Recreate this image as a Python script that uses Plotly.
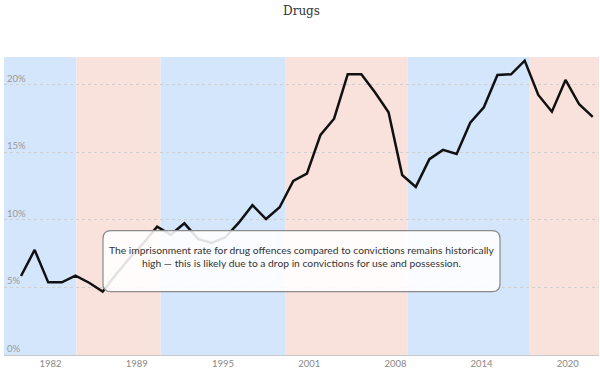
import plotly.graph_objects as go

# ---- data ----
years = list(range(1980, 2023))
rates = [5.85, 7.78, 5.38, 5.38, 5.88, 5.35, 4.69, 6.0, 7.2, 8.3,
         9.5, 8.9, 9.75, 8.6, 8.3, 8.7, 9.8, 11.1, 10.07, 10.94,
         12.9, 13.43, 16.3, 17.5, 20.8, 20.8, 19.46, 17.98, 13.33, 12.45,
         14.5, 15.19, 14.89, 17.2, 18.35, 20.74, 20.79, 21.8, 19.26, 18.02,
         20.37, 18.57, 17.63]

band_starts = ["1979-04-01", "1984-07-26", "1990-10-01", "1999-12-10", "2008-11-19", "2017-10-26"]
band_ends = ["1984-07-26", "1990-10-01", "1999-12-10", "2008-11-19", "2017-10-26", "2022-12-16"]
band_parties = ["National", "Labour", "National", "Labour", "National", "Labour"]

tick_dates = ["1982-09-01", "1989-01-01", "1995-05-01", "2001-09-01", "2008-01-01", "2014-05-01", "2020-09-01"]
tick_labels = ["1982", "1989", "1995", "2001", "2008", "2014", "2020"]

y_ticks = [0, 5, 10, 15, 20]
y_tick_labels = ["0%", "5%", "10%", "15%", "20%"]

note = ("The imprisonment rate for drug offences compared to convictions remains historically<br>"
        "high — this is likely due to a drop in convictions for use and possession.")

party_colors = {"National": "#d4e6fc", "Labour": "#f9e2dc"}

x_dates = [f"{y}-07-01" for y in years]

fig = go.Figure()
fig.add_trace(go.Scatter(x=x_dates, y=rates, mode="lines",
                         line=dict(color="#111111", width=2.5),
                         hoverinfo="skip", showlegend=False))

shapes = []
for s, e, p in zip(band_starts, band_ends, band_parties):
    shapes.append(dict(type="rect", xref="x", yref="paper", x0=s, x1=e, y0=0, y1=1,
                       fillcolor=party_colors[p], line=dict(width=0), layer="below"))

# rounded annotation box (paper coords)
W, H = 595.0, 298.0
bx0, bx1 = (103 - 4) / W, (500 - 4) / W
by1, by0 = (355 - 230.7) / H, (355 - 291.7) / H
rx, ry = 8 / W, 8 / H
path = (f"M {bx0+rx},{by1} L {bx1-rx},{by1} Q {bx1},{by1} {bx1},{by1-ry} "
        f"L {bx1},{by0+ry} Q {bx1},{by0} {bx1-rx},{by0} "
        f"L {bx0+rx},{by0} Q {bx0},{by0} {bx0},{by0+ry} "
        f"L {bx0},{by1-ry} Q {bx0},{by1} {bx0+rx},{by1} Z")
shapes.append(dict(type="path", xref="paper", yref="paper", path=path,
                   fillcolor="rgba(255,255,255,0.88)",
                   line=dict(color="#8a8a8a", width=1.2), layer="above"))

fig.update_layout(
    width=600, height=381,
    margin=dict(l=4, r=1, t=57, b=26),
    paper_bgcolor="white", plot_bgcolor="white",
    shapes=shapes,
    title=dict(text="Drugs", x=0.5, xref="paper", xanchor="center",
               y=1 - 11 / 381, yref="container", yanchor="middle",
               font=dict(family="DejaVu Serif", size=12, color="#333333")),
    font=dict(family="Lato"),
    annotations=[dict(text=note, xref="paper", yref="paper",
                      x=0.5, y=(355 - 256.7) / H, xanchor="center", yanchor="middle",
                      showarrow=False, align="center",
                      font=dict(family="Lato", size=10.3, color="#333333"))],
    xaxis=dict(type="date", range=["1979-04-01", "2022-12-16"], automargin=False,
               tickmode="array", tickvals=tick_dates, ticktext=tick_labels,
               showgrid=False, zeroline=False, showline=True, linecolor="#c8c8c8",
               linewidth=1, ticks="",
               tickfont=dict(family="Lato", size=9.5, color="#888888")),
    yaxis=dict(range=[0, 22.07], tickmode="array", tickvals=y_ticks, ticktext=y_tick_labels,
               automargin=False,
               showgrid=True, gridcolor="#cfcfcf", griddash="dot", gridwidth=1,
               zeroline=False, showline=False, ticks="",
               ticklabelposition="inside top",
               tickfont=dict(family="Lato", size=9.5, color="#999999")),
)

fig.write_html("out.html", config={"displayModeBar": False},
               post_script="document.body.style.margin='0';")
